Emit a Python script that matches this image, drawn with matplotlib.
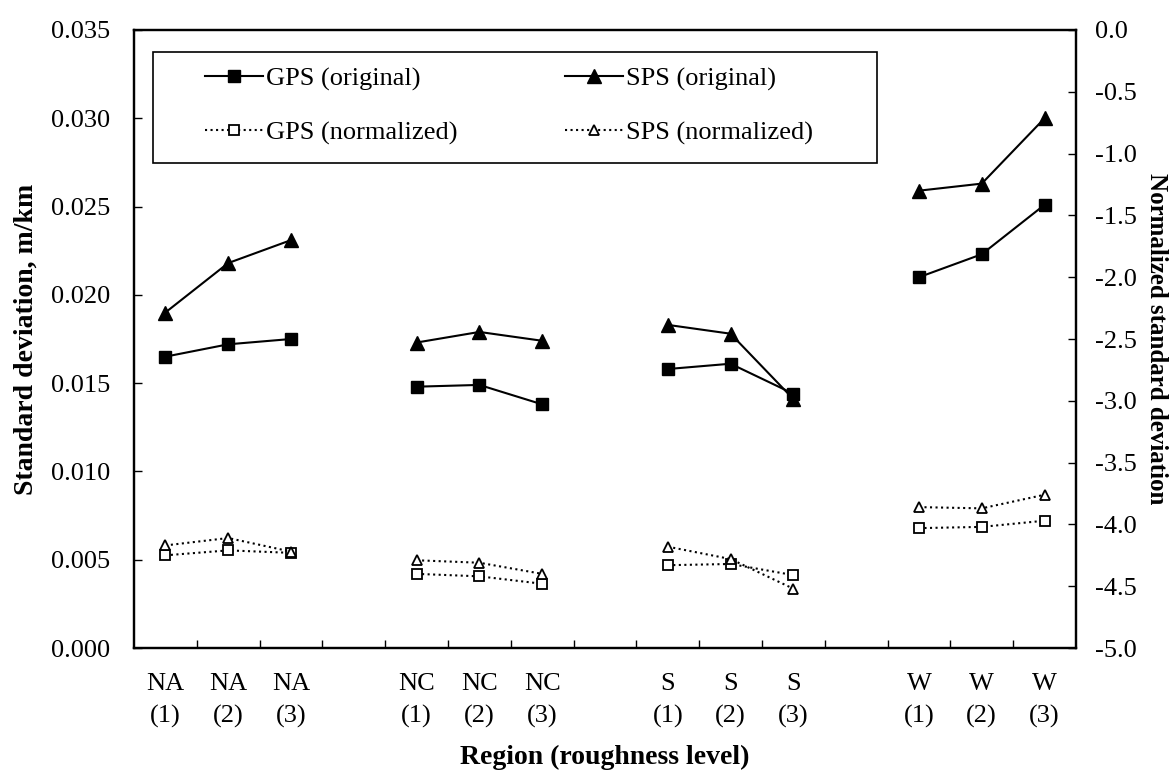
import matplotlib.pyplot as plt
from matplotlib.patches import Rectangle
import numpy as np

plt.rcParams['font.family'] = ['Liberation Serif', 'DejaVu Serif']
plt.rcParams['axes.unicode_minus'] = False

regions = ['NA', 'NA', 'NA', 'NC', 'NC', 'NC', 'S', 'S', 'S', 'W', 'W', 'W']
levels = ['(1)', '(2)', '(3)'] * 4
# slot positions (empty slot between regions)
xpos = [1, 2, 3, 5, 6, 7, 9, 10, 11, 13, 14, 15]

# left axis: standard deviation, m/km
gps_orig = [0.0165, 0.0172, 0.0175, 0.0148, 0.0149, 0.0138,
            0.0158, 0.0161, 0.0144, 0.0210, 0.0223, 0.0251]
sps_orig = [0.0190, 0.0218, 0.0231, 0.0173, 0.0179, 0.0174,
            0.0183, 0.0178, 0.0141, 0.0259, 0.0263, 0.0300]

# right axis: normalized standard deviation
gps_norm = [-4.25, -4.21, -4.23, -4.40, -4.42, -4.48,
            -4.33, -4.32, -4.41, -4.03, -4.02, -3.97]
sps_norm = [-4.17, -4.11, -4.22, -4.29, -4.31, -4.40,
            -4.18, -4.28, -4.52, -3.86, -3.87, -3.76]

FS = 19

fig = plt.figure(figsize=(11.69, 7.71), dpi=100)
ax = fig.add_axes([0.1146, 0.1595, 0.8058, 0.8016])
ax2 = ax.twinx()

# each region drawn separately so lines break between groups
for g in range(4):
    sl = slice(3 * g, 3 * g + 3)
    h1, = ax.plot(xpos[sl], gps_orig[sl], '-s', color='black', lw=1.5, ms=9)
    h2, = ax.plot(xpos[sl], sps_orig[sl], '-^', color='black', lw=1.5, ms=10)
    h3, = ax2.plot(xpos[sl], gps_norm[sl], ':s', color='black', lw=1.5, ms=7,
                   mfc='white', mew=1.3)
    h4, = ax2.plot(xpos[sl], sps_norm[sl], ':^', color='black', lw=1.5, ms=7.5,
                   mfc='white', mew=1.3)

ax.set_xlim(0.5, 15.5)
ax.set_ylim(0, 0.035)
yt = np.arange(0, 0.0351, 0.005)
ax.set_yticks(yt)
ax.set_yticklabels([f'{v:.3f}' for v in yt])
ax2.set_ylim(-5, 0)
yt2 = np.arange(-5, 0.01, 0.5)
ax2.set_yticks(yt2)
ax2.set_yticklabels([f'{v:.1f}' for v in yt2])

ax.set_xticks(xpos)
ax.set_xticklabels([f'{r}\n{l}' for r, l in zip(regions, levels)],
                   linespacing=1.55)
ax.set_xticks(np.arange(1.5, 15, 1), minor=True)
ax.tick_params(axis='x', which='major', length=0, pad=18, labelsize=FS)
ax.tick_params(axis='x', which='minor', direction='in', length=6, width=1)
ax.tick_params(axis='y', direction='in', length=6, width=1, pad=17, labelsize=FS)
ax2.tick_params(axis='y', direction='in', length=6, width=1, pad=14, labelsize=FS)

for a in (ax, ax2):
    for s in a.spines.values():
        s.set_linewidth(1.6)

ax.set_xlabel('Region (roughness level)', fontsize=20, fontweight='bold', labelpad=12)
ax.set_ylabel('Standard deviation, m/km', fontsize=20, fontweight='bold', labelpad=9)
ax2.set_ylabel('Normalized standard deviation', fontsize=18, fontweight='bold',
               rotation=270, labelpad=22)

# legend frame drawn as a plain box, entries placed inside it
W, H = 1169, 771
ax2.add_patch(Rectangle((153 / W, 1 - 163 / H), (877 - 153) / W, (163 - 52) / H,
                        transform=fig.transFigure, facecolor='white',
                        edgecolor='black', lw=1.2, zorder=4, clip_on=False))
leg = ax2.legend([h1, h3, h2, h4],
                 ['GPS (original)', 'GPS (normalized)', 'SPS (original)', 'SPS (normalized)'],
                 ncol=2, loc='upper left', bbox_to_anchor=(205 / W, 1 - 67 / H),
                 bbox_transform=fig.transFigure,
                 fontsize=FS, frameon=False, handlelength=2.2, handletextpad=0.1,
                 labelspacing=1.15, columnspacing=4.1, borderpad=0,
                 borderaxespad=0)
leg.set_zorder(5)

plt.savefig('out.png', dpi=100)
